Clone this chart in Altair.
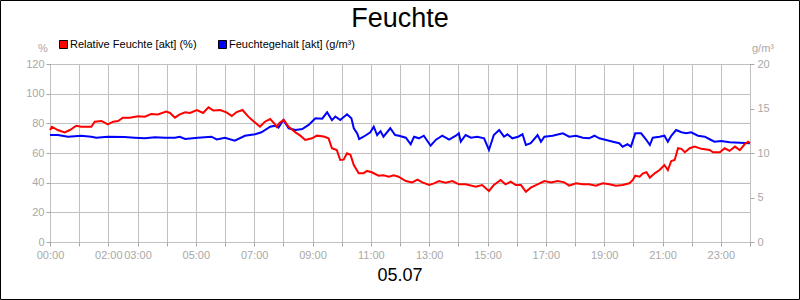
import altair as alt
import pandas as pd

TITLE = "Feuchte"
SUBTITLE = "05.07"
SERIES = ["Relative Feuchte [akt] (%)", "Feuchtegehalt [akt] (g/m³)"]
COLORS = ["#ff0000", "#0000ff"]
LEFT_UNIT = "%"
RIGHT_UNIT = "g/m³"
X_LABELS = ["00:00", "02:00", "03:00", "05:00", "07:00", "09:00", "11:00",
            "13:00", "15:00", "17:00", "19:00", "21:00", "23:00"]

# minutes since midnight / relative humidity (%)
rh_min = [0, 4, 16, 30, 41, 54, 64, 85, 92, 106, 119, 130, 140, 150, 164, 181, 195, 208, 222, 239,
          247, 257, 267, 278, 288, 302, 315, 326, 336, 350, 363, 374, 384, 396, 408, 418, 432, 442,
          453, 463, 466, 473, 481, 491, 505, 515, 525, 539, 549, 563, 573, 580, 590, 597, 604, 611,
          618, 625, 635, 645, 652, 662, 676, 686, 697, 707, 717, 732, 745, 756, 766, 780, 790, 800,
          814, 828, 841, 855, 876, 889, 903, 913, 927, 937, 948, 958, 969, 979, 989, 1003, 1017,
          1031, 1044, 1058, 1068, 1082, 1096, 1109, 1123, 1137, 1151, 1164, 1178, 1192, 1199, 1204,
          1213, 1220, 1227, 1234, 1244, 1254, 1264, 1271, 1278, 1285, 1292, 1299, 1306, 1316, 1326,
          1340, 1357, 1364, 1378, 1388, 1398, 1409, 1419, 1429, 1436, 1440]
rh_val = [75.5, 77.7, 75.5, 73.9, 75.5, 78.4, 77.7, 77.7, 81.1, 81.6, 79.3, 81.1, 81.6, 83.8, 83.8,
          84.7, 84.5, 86.3, 86.0, 87.9, 87.0, 83.8, 86.0, 87.4, 87.0, 89.0, 87.0, 90.8, 88.6, 89.0,
          87.4, 85.0, 87.6, 89.0, 84.5, 81.6, 77.7, 81.1, 82.9, 79.3, 77.7, 80.6, 82.3, 77.7, 73.9,
          71.7, 68.8, 69.9, 71.7, 71.1, 69.9, 63.2, 62.0, 55.3, 55.5, 59.8, 58.8, 51.9, 46.3, 46.3,
          47.9, 47.0, 44.7, 45.0, 44.0, 45.0, 44.0, 41.1, 40.2, 42.0, 40.2, 38.4, 39.5, 41.1, 40.0,
          41.1, 38.9, 38.9, 37.3, 38.4, 34.4, 38.4, 41.8, 38.9, 40.7, 38.4, 38.4, 33.9, 36.6, 38.9,
          41.1, 40.2, 41.1, 40.2, 38.0, 39.6, 38.9, 38.9, 38.0, 39.6, 38.9, 38.0, 38.4, 39.6, 41.8,
          44.7, 44.0, 46.3, 47.0, 43.4, 46.3, 48.5, 51.9, 48.5, 54.6, 55.3, 63.2, 62.8, 60.5, 63.2,
          64.3, 62.8, 62.0, 60.5, 60.5, 63.2, 61.4, 64.3, 62.0, 65.9, 67.6, 66.5]

# minutes since midnight / absolute humidity (g/m³)
ah_min = [0, 16, 37, 64, 85, 95, 119, 153, 174, 195, 216, 236, 257, 267, 278, 304, 332, 343, 360,
          380, 401, 422, 435, 453, 463, 470, 480, 491, 505, 519, 532, 546, 560, 570, 580, 587, 597,
          611, 620, 625, 632, 636, 645, 659, 666, 673, 680, 686, 700, 710, 718, 732, 742, 749, 759,
          769, 783, 794, 807, 821, 835, 841, 845, 855, 866, 879, 893, 903, 913, 924, 934, 941, 951,
          963, 972, 979, 989, 1003, 1010, 1017, 1034, 1055, 1068, 1082, 1096, 1109, 1120, 1130,
          1144, 1158, 1171, 1178, 1188, 1195, 1204, 1216, 1227, 1234, 1240, 1254, 1264, 1271, 1278,
          1288, 1299, 1309, 1319, 1333, 1347, 1360, 1367, 1381, 1398, 1419, 1440]
ah_val = [12.02, 12.02, 11.83, 11.94, 11.83, 11.72, 11.83, 11.80, 11.72, 11.65, 11.76, 11.72, 11.72,
          11.83, 11.57, 11.72, 11.83, 11.53, 11.72, 11.38, 11.94, 12.10, 12.33, 12.96, 13.07, 12.85,
          13.70, 12.78, 12.58, 12.70, 13.15, 13.90, 13.86, 14.57, 13.70, 14.10, 13.70, 14.35, 13.90,
          12.78, 12.21, 11.57, 11.83, 12.33, 12.96, 12.02, 12.45, 11.83, 12.78, 12.02, 11.94, 11.72,
          10.98, 11.83, 11.65, 11.94, 10.82, 11.50, 11.94, 11.50, 11.94, 12.21, 11.27, 12.02, 11.72,
          11.83, 11.65, 10.34, 12.02, 12.58, 11.83, 12.10, 11.65, 11.83, 12.10, 10.90, 11.10, 12.02,
          11.27, 11.83, 11.94, 12.21, 11.83, 11.94, 11.72, 11.65, 11.94, 11.65, 11.46, 11.27, 11.10,
          10.71, 10.98, 10.71, 12.21, 12.21, 11.46, 10.90, 11.72, 11.83, 11.94, 11.27, 11.94, 12.58,
          12.33, 12.21, 12.33, 11.94, 11.83, 11.46, 11.27, 11.35, 11.20, 11.16, 11.10]

FONT = "Liberation Sans"
GRAY = "#a8a8a8"
GRID = "#c0c0c0"

rh_df = pd.DataFrame({"t": rh_min, "v": rh_val})
ah_df = pd.DataFrame({"t": ah_min, "v": ah_val})

label_list = "[" + ",".join("'%s'" % s for s in X_LABELS) + "]"
fmt = "(floor(datum.value/60) < 10 ? '0' : '') + floor(datum.value/60) + ':00'"
label_expr = f"indexof({label_list}, {fmt}) >= 0 ? {fmt} : ''"

x_enc = alt.X("t:Q", scale=alt.Scale(domain=[0, 1440], nice=False, zero=False),
              axis=alt.Axis(values=list(range(0, 1441, 60)), labelExpr=label_expr,
                            title=None, grid=True, gridColor=GRID, domain=False,
                            tickColor=GRAY, tickSize=4, labelColor=GRAY, labelFont=FONT,
                            labelFontSize=11, labelPadding=3, labelOverlap=False,
                            labelFlush=False, labelBound=False))

blue = alt.Chart(ah_df).mark_line(color=COLORS[1], strokeWidth=2).encode(
    x=x_enc,
    y=alt.Y("v:Q", scale=alt.Scale(domain=[0, 20], nice=False),
            axis=alt.Axis(orient="right", values=[0, 5, 10, 15, 20], title=None, grid=False,
                          domain=False, tickColor=GRAY, tickSize=4, labelColor=GRAY,
                          labelFont=FONT, labelFontSize=11, labelPadding=3))
)

red = alt.Chart(rh_df).mark_line(color=COLORS[0], strokeWidth=2).encode(
    x=x_enc,
    y=alt.Y("v:Q", scale=alt.Scale(domain=[0, 120], nice=False),
            axis=alt.Axis(orient="left", values=list(range(0, 121, 20)), title=None, grid=True,
                          gridColor=GRID, domain=False, tickColor=GRAY, tickSize=4,
                          labelColor=GRAY, labelFont=FONT, labelFontSize=11, labelPadding=2))
)

one = pd.DataFrame({"k": [0]})

def text(t, x, y, size, color="black", align="center"):
    return alt.Chart(one).mark_text(text=t, font=FONT, fontSize=size, color=color,
                                    align=align, baseline="middle").encode(
        x=alt.value(x), y=alt.value(y))

def square(x, y, color):
    return alt.Chart(one).mark_rect(fill=color, stroke="black", strokeWidth=1).encode(
        x=alt.value(x), x2=alt.value(x + 8), y=alt.value(y), y2=alt.value(y + 8))

border = alt.Chart(one).mark_rect(fill=None, stroke="black", strokeWidth=1).encode(
    x=alt.value(-49.5), x2=alt.value(749.5), y=alt.value(-63.5), y2=alt.value(235.5))

deco = [
    text(TITLE, 350, -45, 27),
    text(SUBTITLE, 350, 212, 18),
    square(9.5, -23.5, COLORS[0]),
    text(SERIES[0], 20, -19, 11, align="left"),
    square(168.5, -23.5, COLORS[1]),
    text(SERIES[1], 179, -19, 11, align="left"),
    text(LEFT_UNIT, -7, -15, 11, color=GRAY),
    text(RIGHT_UNIT, 713, -15, 11, color=GRAY),
    border,
]

chart = alt.layer(blue, red, *deco).resolve_scale(y="independent").properties(
    width=700, height=178,
    autosize=alt.AutoSizeParams(type="none"),
    padding={"left": 50, "top": 64, "right": 50, "bottom": 58},
    background="white",
).configure_view(stroke="black", strokeWidth=1)

chart.save("out.html", embed_options={"renderer": "svg", "actions": False})
